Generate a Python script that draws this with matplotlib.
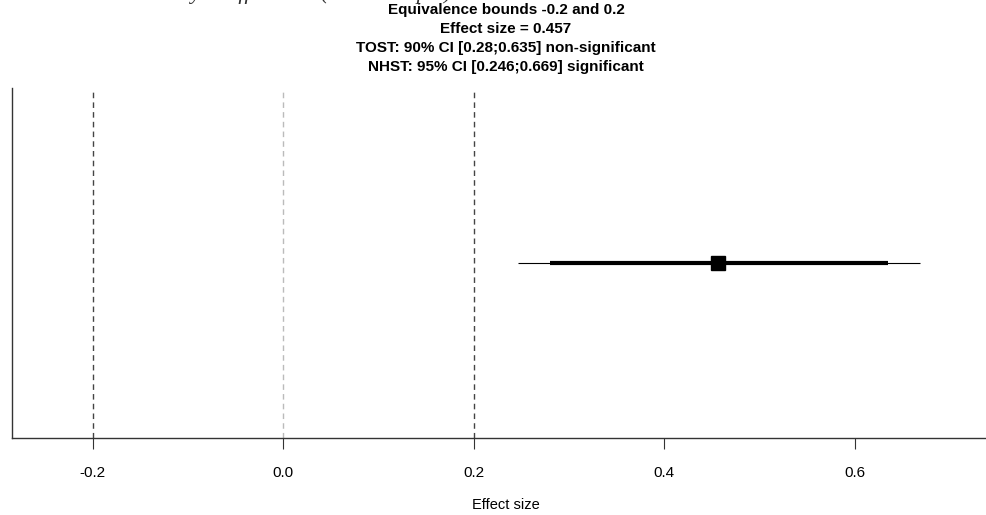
import matplotlib
matplotlib.use("Agg")
from matplotlib import pyplot as plt

# bounds and estimates
bounds = [-0.2, 0.2]
null_value = 0.0
effect = 0.457
ci_90 = [0.28, 0.635]
ci_95 = [0.246, 0.669]
xticks = [-0.2, 0.0, 0.2, 0.4, 0.6]
xlim = [-0.285, 0.739]

title_lines = [
    "Equivalence bounds -0.2 and 0.2",
    "Effect size = 0.457",
    "TOST: 90% CI [0.28;0.635] non-significant",
    "NHST: 95% CI [0.246;0.669] significant",
]
caption = "Equivalence test with meta-analytic effect size (other sample)"

W, H = 987, 515
fig = plt.figure(figsize=(W / 100, H / 100), dpi=100)
ax = fig.add_axes([12 / W, 1 - 438 / H, 1 - 12 / W, (438 - 88) / H])

sans = ["Liberation Sans", "DejaVu Sans"]

for b in bounds:
    ax.axvline(b, color="#444444", ls=(0, (4, 3)), lw=1)
ax.axvline(null_value, color="#bbbbbb", ls=(0, (4, 3)), lw=1)

ax.plot(ci_95, [0, 0], color="black", lw=0.8, solid_capstyle="butt")
ax.plot(ci_90, [0, 0], color="black", lw=3, solid_capstyle="butt")
ax.plot([effect], [0], marker="s", color="black", markersize=10)

ax.set_xlim(xlim)
ax.set_ylim(-1, 1)
ax.set_yticks([])
ax.set_xticks(xticks)
ax.set_xticklabels([f"{t:.1f}" for t in xticks], family=sans, fontsize=11)
ax.tick_params(axis="x", length=8, width=0.8, pad=12, color="#333333")
for s in ["top", "right"]:
    ax.spines[s].set_visible(False)
for s in ["left", "bottom"]:
    ax.spines[s].set_color("#333333")
    ax.spines[s].set_linewidth(1)

fig.text(506 / W, 1 - 505 / H, "Effect size", ha="center", va="center",
         family=sans, fontsize=10.5)

for i, line in enumerate(title_lines):
    fig.text(506 / W, 1 - (10 + 19 * i) / H, line, ha="center", va="center",
             family=sans, fontweight="bold", fontsize=11)

# caption of the page above, almost fully cut off at the top edge
fig.text(452 / W, 1 + 1 / H, caption, ha="right", va="baseline",
         family=["Liberation Serif", "DejaVu Serif"], style="italic",
         fontsize=16, color="#333333")

fig.savefig("out.png", dpi=100)
